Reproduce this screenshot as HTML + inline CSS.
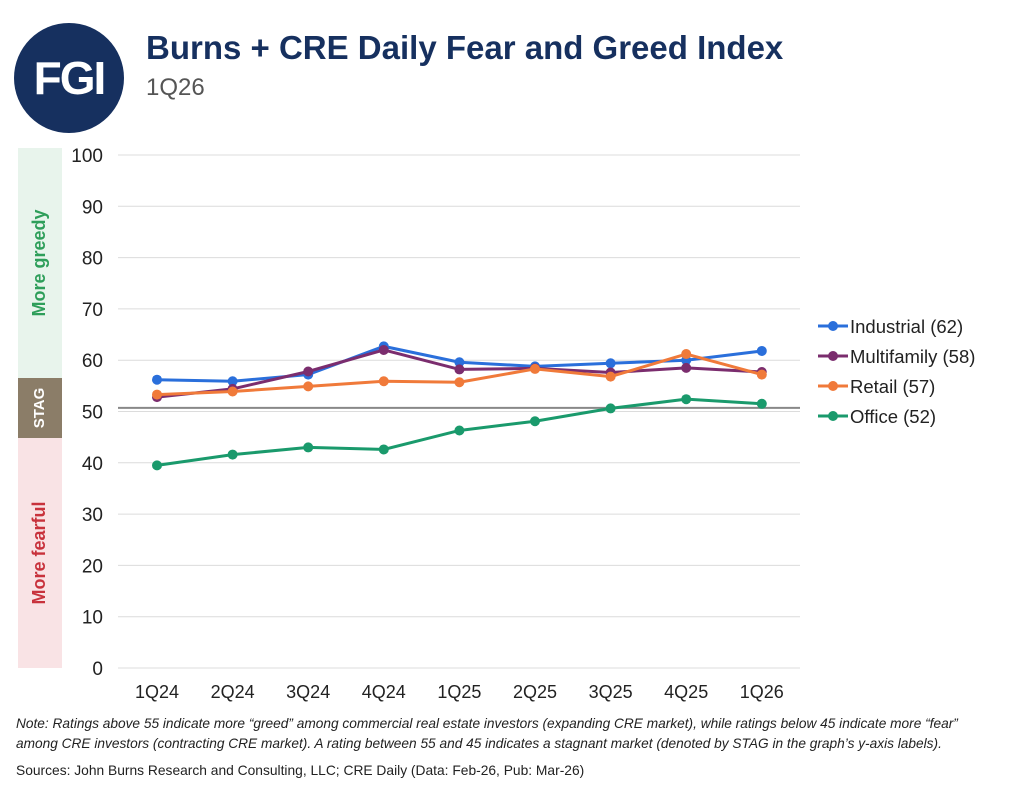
<!DOCTYPE html>
<html><head><meta charset="utf-8"><style>
body{margin:0;width:1015px;height:787px;background:#fff;font-family:"Liberation Sans",sans-serif;overflow:hidden;position:relative}
.abs{position:absolute}
</style></head><body>
<div class="abs" style="left:14px;top:23px;width:110px;height:110px;border-radius:50%;background:#16305f;color:#fff;font-weight:bold;font-size:46px;line-height:110px;text-align:center;letter-spacing:-2px">FGI</div>
<div class="abs" style="left:146px;top:29px;font-size:33px;font-weight:bold;color:#16305f">Burns + CRE Daily Fear and Greed Index</div>
<div class="abs" style="left:146px;top:74px;font-size:24px;color:#555">1Q26</div>
<div class="abs" style="left:16px;top:714px;font-size:13.7px;font-style:italic;color:#222;line-height:20px;width:1000px;white-space:nowrap">Note: Ratings above 55 indicate more “greed” among commercial real estate investors (expanding CRE market), while ratings below 45 indicate more “fear”<br>among CRE investors (contracting CRE market). A rating between 55 and 45 indicates a stagnant market (denoted by STAG in the graph’s y-axis labels).</div>
<div class="abs" style="left:16px;top:763px;font-size:13.8px;color:#222">Sources: John Burns Research and Consulting, LLC; CRE Daily (Data: Feb-26, Pub: Mar-26)</div>
<svg id="chart" class="abs" style="left:0;top:0" width="1015" height="787"></svg>
<script>
const categories=["1Q24","2Q24","3Q24","4Q24","1Q25","2Q25","3Q25","4Q25","1Q26"];
const industrial=[56.2,55.9,57.2,62.7,59.6,58.8,59.4,60.0,61.8];
const multifamily=[52.8,54.4,57.8,62.0,58.2,58.4,57.6,58.5,57.7];
const retail=[53.3,53.9,54.9,55.9,55.7,58.3,56.8,61.2,57.2];
const office=[39.5,41.6,43.0,42.6,46.3,48.1,50.6,52.4,51.5];
const yTicks=[0,10,20,30,40,50,60,70,80,90,100];
const seriesNames=["Industrial (62)","Multifamily (58)","Retail (57)","Office (52)"];
const refValue=50.7;
const svg=document.getElementById('chart');const NS="http://www.w3.org/2000/svg";
function y(v){return 668-v*5.13;}
function x(i){return 157+i*75.6;}
function mk(t,a,p){const e=document.createElementNS(NS,t);for(const k in a)e.setAttribute(k,a[k]);(p||svg).appendChild(e);return e;}
let b=mk('rect',{x:18,y:148,width:44,height:230,fill:'#e8f4ec'});
b=mk('rect',{x:18,y:378,width:44,height:60,fill:'#8b7d68'});
b=mk('rect',{x:18,y:438,width:44,height:230,fill:'#f9e3e5'});
let t=mk('text',{x:40,y:263,transform:'rotate(-90 40 263)','text-anchor':'middle','dominant-baseline':'middle','font-size':18,'font-weight':'bold',fill:'#2e9e5a'});t.textContent='More greedy';
t=mk('text',{x:40,y:408,transform:'rotate(-90 40 408)','text-anchor':'middle','dominant-baseline':'middle','font-size':15,'font-weight':'bold',fill:'#fff'});t.textContent='STAG';
t=mk('text',{x:40,y:553,transform:'rotate(-90 40 553)','text-anchor':'middle','dominant-baseline':'middle','font-size':18,'font-weight':'bold',fill:'#c8323c'});t.textContent='More fearful';
yTicks.forEach(v=>{const l=mk('line',{x1:118,x2:800,y1:y(v),y2:y(v),stroke:'#dcdcdc','stroke-width':1});
const tx=mk('text',{x:103,y:y(v)+7,'text-anchor':'end','font-size':19,fill:'#222'});tx.textContent=v;});
categories.forEach((c,i)=>{const tx=mk('text',{x:x(i),y:698,'text-anchor':'middle','font-size':18,fill:'#222'});tx.textContent=c;});
const ref=mk('line',{x1:118,x2:800,y1:y(refValue),y2:y(refValue),stroke:'#888','stroke-width':2});
const data=[industrial,multifamily,retail,office];const colors=['#2a6fdb','#7b2d6e','#f07a3a','#1a9a6c'];
[3,0,1,2].forEach(s=>{const g=mk('g',{});
const p=mk('polyline',{points:data[s].map((v,i)=>x(i)+','+y(v)).join(' '),fill:'none',stroke:colors[s],'stroke-width':3},g);
data[s].forEach((v,i)=>{const c=mk('circle',{cx:x(i),cy:y(v),r:5,fill:colors[s]},g);});});
seriesNames.forEach((n,s)=>{const yy=326+s*30;const g=mk('g',{});
mk('line',{x1:818,x2:848,y1:yy,y2:yy,stroke:colors[s],'stroke-width':3},g);mk('circle',{cx:833,cy:yy,r:5,fill:colors[s]},g);
const tx=mk('text',{x:850,y:yy+7,'font-size':18.5,fill:'#222'},g);tx.textContent=n;});
</script>
</body></html>
